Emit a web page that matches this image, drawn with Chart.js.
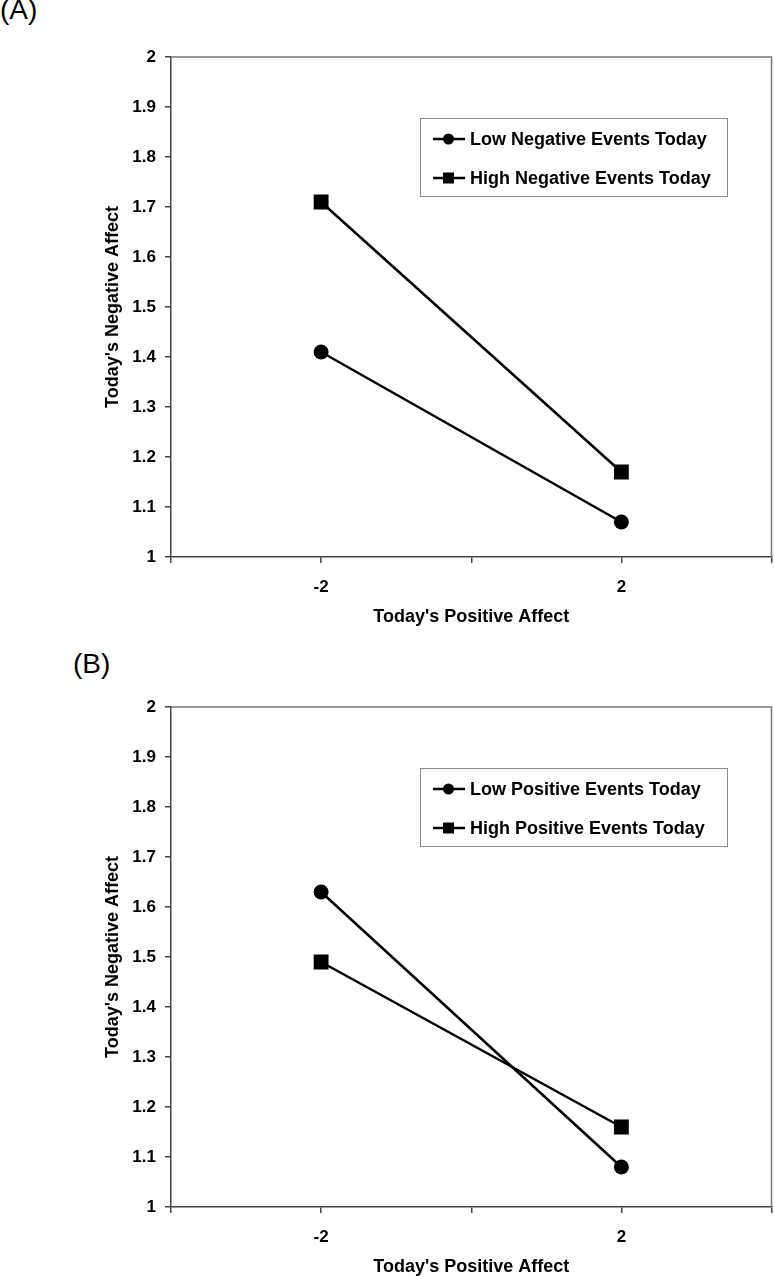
<!DOCTYPE html>
<html>
<head>
<meta charset="utf-8">
<script src="https://cdn.jsdelivr.net/npm/chart.js@4.4.1/dist/chart.umd.min.js"></script>
<style>
html, body { margin: 0; overflow: hidden; }
body { background: #fff; width: 774px; height: 1276px; position: relative; font-family: "Liberation Sans", Arial, sans-serif; }
.panel { position: absolute; font-size: 28px; line-height: 28px; color: #000; }
canvas { position: absolute; left: 0; }
</style>
</head>
<body>
<div class="panel" style="left:0;top:-4px">(A)</div>
<div class="panel" style="left:73px;top:650px">(B)</div>
<canvas id="chartA" width="782" height="640" style="top:0"></canvas>
<canvas id="chartB" width="782" height="640" style="top:650px"></canvas>
<script>
// values
const xValues = [-2, 2];
const xTickLabels = ['-2', '2'];
const yMin = 1, yMax = 2, yStep = 0.1;

const lowNegEvents = [1.41, 1.07];
const highNegEvents = [1.71, 1.17];
const lowPosEvents = [1.63, 1.08];
const highPosEvents = [1.49, 1.16];

const namesA = ['Low Negative Events Today', 'High Negative Events Today'];
const namesB = ['Low Positive Events Today', 'High Positive Events Today'];

const xTitle = "Today's Positive Affect";
const yTitle = "Today's Negative Affect";

const FONT = '"Liberation Sans", Arial, sans-serif';

function toPoints(values) {
    return values.map((v, i) => ({ x: xValues[i], y: v }));
}

function makeDataset(label, values, style) {
    return {
        label: label,
        data: toPoints(values),
        showLine: true,
        borderColor: '#000',
        borderWidth: 2.5,
        pointStyle: style,
        pointRadius: style === 'rect' ? 10.5 : 7.5,
        pointBackgroundColor: '#000',
        pointBorderColor: '#000',
        pointBorderWidth: 0
    };
}

// top and right edges of the plot frame
const frame = {
    id: 'frame',
    beforeDatasetsDraw(chart) {
        const { ctx, chartArea: a } = chart;
        ctx.save();
        ctx.strokeStyle = '#777';
        ctx.lineWidth = 1.5;
        ctx.beginPath();
        ctx.moveTo(a.left, a.top);
        ctx.lineTo(a.right, a.top);
        ctx.lineTo(a.right, a.bottom);
        ctx.stroke();
        ctx.restore();
    }
};

// boxed legend inside the plot
const boxLegend = {
    id: 'boxLegend',
    afterDraw(chart) {
        const { ctx, chartArea: a } = chart;
        const x = a.left + 249, y = a.top + 61;
        ctx.save();
        ctx.strokeStyle = '#888';
        ctx.lineWidth = 1;
        ctx.strokeRect(x + 0.5, y + 0.5, 307, 78);
        chart.data.datasets.forEach((ds, i) => {
            const cy = y + 21 + i * 39;
            ctx.strokeStyle = '#000';
            ctx.lineWidth = 2.5;
            ctx.beginPath();
            ctx.moveTo(x + 13, cy);
            ctx.lineTo(x + 45, cy);
            ctx.stroke();
            ctx.fillStyle = '#000';
            if (ds.pointStyle === 'rect') {
                ctx.fillRect(x + 23, cy - 5.5, 11, 11);
            } else {
                ctx.beginPath();
                ctx.arc(x + 28.5, cy, 5.5, 0, Math.PI * 2);
                ctx.fill();
            }
            ctx.font = 'bold 18px ' + FONT;
            ctx.textBaseline = 'middle';
            ctx.fillText(ds.label, x + 50, cy + 1);
        });
        ctx.restore();
    }
};

function makeChart(id, names, lowVals, highVals) {
    const ctx = document.getElementById(id).getContext('2d');
    return new Chart(ctx, {
        type: 'scatter',
        data: {
            datasets: [
                makeDataset(names[0], lowVals, 'circle'),
                makeDataset(names[1], highVals, 'rect')
            ]
        },
        options: {
            responsive: false,
            animation: false,
            layout: { padding: { top: 57, right: 0, bottom: 0, left: 0 } },
            plugins: {
                legend: { display: false },
                tooltip: { enabled: false }
            },
            scales: {
                x: {
                    type: 'linear',
                    min: -4,
                    max: 4,
                    afterFit: s => { s.height = 83; s.paddingLeft = 0; s.paddingRight = 0; },
                    border: { color: '#444', width: 1.5 },
                    grid: { drawOnChartArea: false, drawTicks: true, tickLength: 6, color: '#444', lineWidth: 1.5 },
                    ticks: {
                        stepSize: 2,
                        autoSkip: false,
                        maxRotation: 0,
                        padding: 14,
                        color: '#000',
                        font: { family: FONT, size: 17, weight: 'bold' },
                        callback: v => {
                            const i = xValues.indexOf(v);
                            return i >= 0 ? xTickLabels[i] : '';
                        }
                    },
                    title: {
                        display: true,
                        text: xTitle,
                        color: '#000',
                        font: { family: FONT, size: 18, weight: 'bold' },
                        padding: { top: 0, bottom: 12 }
                    }
                },
                y: {
                    min: yMin,
                    max: yMax,
                    afterFit: s => { s.width = 171; s.paddingTop = 0; s.paddingBottom = 0; },
                    border: { color: '#444', width: 1.5 },
                    grid: { drawOnChartArea: false, drawTicks: true, tickLength: 6, color: '#444', lineWidth: 1.5 },
                    ticks: {
                        stepSize: yStep,
                        padding: 9,
                        color: '#000',
                        font: { family: FONT, size: 17, weight: 'bold' },
                        callback: v => String(Number(v.toFixed(1)))
                    },
                    title: {
                        display: true,
                        text: yTitle,
                        color: '#000',
                        font: { family: FONT, size: 18, weight: 'bold' },
                        padding: { top: 102, bottom: 0 }
                    }
                }
            }
        },
        plugins: [frame, boxLegend]
    });
}

makeChart('chartA', namesA, lowNegEvents, highNegEvents);
makeChart('chartB', namesB, lowPosEvents, highPosEvents);
</script>
</body>
</html>
